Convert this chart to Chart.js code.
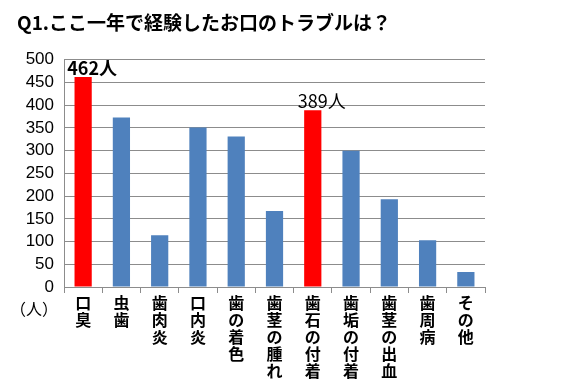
<!DOCTYPE html>
<html>
<head>
<meta charset="utf-8">
<script src="https://cdn.jsdelivr.net/npm/chart.js@4/dist/chart.umd.min.js"></script>
<style>
    html, body { margin: 0; padding: 0; background: #fff; }
    #wrap { width: 578px; height: 391px; }
</style>
</head>
<body>
<div id="wrap"><canvas id="troubleChart" width="578" height="391"></canvas></div>
<script>
// カテゴリ（縦書き表示のため1文字ずつ）
const categories = ["口臭", "虫歯", "歯肉炎", "口内炎", "歯の着色", "歯茎の腫れ", "歯石の付着", "歯垢の付着", "歯茎の出血", "歯周病", "その他"];
const counts = [462, 373, 114, 351, 331, 167, 389, 300, 193, 103, 33];
const highlighted = [true, false, false, false, false, false, true, false, false, false, false];
const labelBold = { 0: true, 6: false };
const yMax = 500;
const yStep = 50;

const JP = "'Noto Sans CJK JP', 'Noto Sans', sans-serif";

const valueLabels = {
    id: "valueLabels",
    afterDatasetsDraw: function(chart)
    {
        const ctx = chart.ctx;
        const meta = chart.getDatasetMeta(0);
        ctx.save();
        ctx.fillStyle = "#000";
        ctx.textAlign = "center";
        ctx.textBaseline = "bottom";
        meta.data.forEach(function(bar, i)
        {
            if (!highlighted[i]) return;
            ctx.font = (labelBold[i] ? "bold " : "") + "18px " + JP;
            ctx.fillText(counts[i] + "人", bar.x + 9, bar.y);
        });
        // 単位
        ctx.font = "16px " + JP;
        ctx.textAlign = "left";
        ctx.textBaseline = "middle";
        ctx.fillText("（人）", 10, 309);
        ctx.restore();
    }
};

new Chart(document.getElementById("troubleChart").getContext("2d"),
{
    type: "bar",
    data:
    {
        labels: categories.map(function(c) { return c.split(""); }),
        datasets: [
            {
                data: counts,
                backgroundColor: highlighted.map(function(h) { return h ? "#ff0000" : "#4f81bd"; }),
                categoryPercentage: 0.9,
                barPercentage: 0.5
            }
        ]
    },
    options:
    {
        responsive: false,
        animation: false,
        layout: { padding: { left: 17, right: 93, top: 0, bottom: 0 } },
        plugins:
        {
            legend: { display: false },
            tooltip: { enabled: false },
            title:
            {
                display: true,
                text: "Q1.ここ一年で経験したお口のトラブルは？",
                align: "start",
                color: "#000",
                font: { family: JP, size: 19, weight: "bold" },
                padding: { top: 11, bottom: 26 }
            }
        },
        scales:
        {
            y:
            {
                min: 0,
                max: yMax,
                afterFit: function(scale) { scale.width = 47; },
                ticks: { stepSize: yStep, autoSkip: false, color: "#000", font: { family: "'Liberation Sans', sans-serif", size: 17 }, padding: 10 },
                grid: { color: "#8c8c8c", drawTicks: false },
                border: { display: true, color: "#8c8c8c" }
            },
            x:
            {
                afterFit: function(scale) { scale.height = 104; },
                grid: { offset: true, drawOnChartArea: false, drawTicks: true, tickLength: 6, color: "#8c8c8c" },
                border: { color: "#8c8c8c" },
                ticks:
                {
                    color: "#000",
                    maxRotation: 0,
                    autoSkip: false,
                    padding: 2,
                    font: { family: JP, size: 16, weight: "bold", lineHeight: 1.05 }
                }
            }
        }
    },
    plugins: [valueLabels]
});
</script>
</body>
</html>
